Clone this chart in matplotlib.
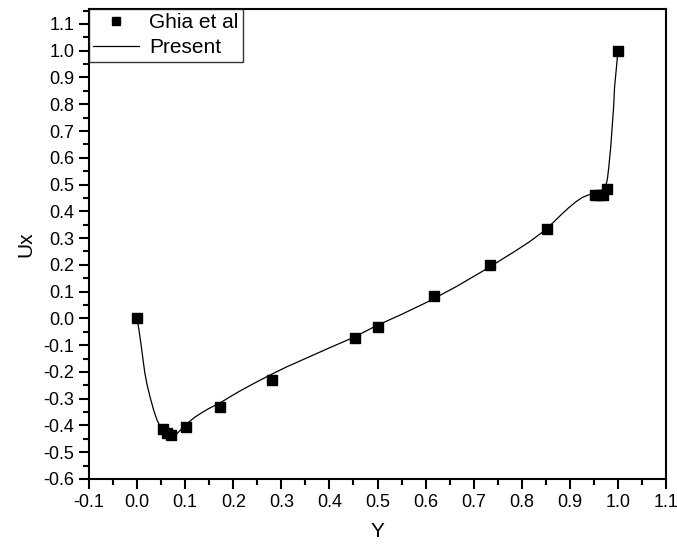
import matplotlib.pyplot as plt
from matplotlib.ticker import MultipleLocator, FormatStrFormatter

# Ghia et al. (Re = 5000) u-velocity along the vertical centreline
ghia_y = [0.0, 0.0547, 0.0625, 0.0703, 0.1016, 0.1719, 0.2813, 0.4531, 0.5000,
          0.6172, 0.7344, 0.8516, 0.9531, 0.9609, 0.9688, 0.9766, 1.0]
ghia_u = [0.0, -0.41165, -0.42901, -0.43643, -0.40435, -0.33050, -0.22855, -0.07404,
          -0.03039, 0.08183, 0.20087, 0.33556, 0.46036, 0.45992, 0.46120, 0.48223, 1.0]

# present solution
present_y = [0.0, 0.004, 0.008, 0.012, 0.016, 0.021, 0.027, 0.034, 0.041, 0.046,
             0.051, 0.056, 0.062, 0.067, 0.072, 0.079, 0.086, 0.093, 0.099, 0.11,
             0.12, 0.134, 0.148, 0.162, 0.175, 0.196, 0.217, 0.246, 0.276, 0.31,
             0.35, 0.40, 0.449, 0.497, 0.55, 0.608, 0.665, 0.725, 0.785, 0.815,
             0.843, 0.864, 0.884, 0.898, 0.912, 0.926, 0.94, 0.95, 0.96, 0.968,
             0.974, 0.978, 0.981, 0.985, 0.988, 0.991, 0.993, 0.997, 1.0]
present_u = [0.0, -0.045, -0.095, -0.15, -0.203, -0.25, -0.294, -0.34, -0.378, -0.397,
             -0.412, -0.425, -0.435, -0.441, -0.444, -0.437, -0.425, -0.412, -0.40, -0.384,
             -0.369, -0.353, -0.338, -0.325, -0.313, -0.29, -0.268, -0.24, -0.212, -0.182,
             -0.15, -0.11, -0.072, -0.028, 0.015, 0.065, 0.12, 0.183, 0.25, 0.285,
             0.322, 0.356, 0.391, 0.414, 0.435, 0.452, 0.462, 0.468, 0.475, 0.48,
             0.49, 0.52, 0.566, 0.64, 0.715, 0.79, 0.865, 0.94, 1.0]

plt.rcParams['font.family'] = ['Liberation Sans', 'DejaVu Sans']

fig = plt.figure(figsize=(6.77, 5.44), dpi=100)
ax = fig.add_axes([0.1315, 0.1195, 0.8523, 0.864])

ax.plot(ghia_y, ghia_u, 's', color='black', markersize=6.5, label='Ghia et al')
ax.plot(present_y, present_u, '-', color='black', linewidth=0.9, label='Present')

ax.set_xlim(-0.1, 1.1)
ax.set_ylim(-0.6, 1.156)
ax.xaxis.set_major_locator(MultipleLocator(0.1))
ax.xaxis.set_minor_locator(MultipleLocator(0.05))
ax.yaxis.set_minor_locator(MultipleLocator(0.05))
ax.xaxis.set_major_formatter(FormatStrFormatter('%.1f'))
ax.yaxis.set_major_formatter(FormatStrFormatter('%.1f'))
ax.set_yticks([v / 10 for v in range(-6, 12)])
ax.tick_params(which='major', direction='out', length=7, width=1.5, labelsize=13)
ax.tick_params(which='minor', direction='out', length=4, width=1.5)
for s in ax.spines.values():
    s.set_linewidth(1.5)

ax.set_xlabel('Y', fontsize=15, labelpad=8)
ax.set_ylabel('Ux', fontsize=15, labelpad=6)

leg = ax.legend(loc='upper left', fontsize=15, frameon=True, fancybox=False,
                borderaxespad=0, handlelength=2.2, borderpad=0.2, labelspacing=0.3,
                handletextpad=0.5, markerscale=0.9)
leg.get_frame().set_edgecolor('black')
leg.get_frame().set_linewidth(1.0)

fig.savefig('out.png', dpi=100)
